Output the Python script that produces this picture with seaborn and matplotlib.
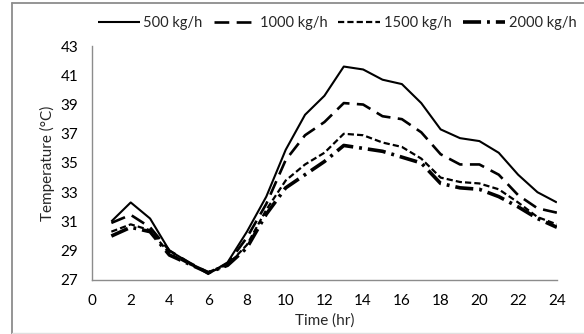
import matplotlib
matplotlib.use("Agg")
import matplotlib.pyplot as plt
from matplotlib.lines import Line2D
import seaborn as sns
import pandas as pd

hours = list(range(1, 25))
labels = ["500 kg/h", "1000 kg/h", "1500 kg/h", "2000 kg/h"]
t500 = [31.0, 32.3, 31.2, 29.0, 28.2, 27.4, 28.2, 30.3, 32.7, 35.9, 38.3, 39.6,
        41.6, 41.4, 40.7, 40.4, 39.1, 37.3, 36.7, 36.5, 35.7, 34.2, 33.0, 32.3]
t1000 = [30.9, 31.45, 30.6, 29.0, 28.2, 27.5, 28.1, 29.9, 32.2, 35.2, 36.9, 37.8,
         39.1, 39.0, 38.2, 38.0, 37.1, 35.6, 34.9, 34.9, 34.2, 32.8, 31.9, 31.6]
t1500 = [30.3, 30.8, 30.4, 28.8, 28.1, 27.5, 28.0, 29.4, 31.8, 33.8, 34.9, 35.7,
         37.0, 36.9, 36.4, 36.1, 35.3, 34.0, 33.7, 33.6, 33.2, 32.3, 31.3, 30.8]
t2000 = [30.0, 30.6, 30.3, 28.7, 28.1, 27.5, 28.0, 29.2, 31.5, 33.3, 34.2, 35.1,
         36.2, 36.0, 35.8, 35.4, 35.0, 33.6, 33.3, 33.2, 32.7, 32.0, 31.2, 30.6]
series = [t500, t1000, t1500, t2000]
x_ticks = list(range(0, 25, 2))
y_ticks = list(range(27, 44, 2))

sns.set_theme(style="white")
plt.rcParams["font.family"] = ["Lato", "DejaVu Sans"]

fig = plt.figure(figsize=(5.84, 3.34), dpi=100)
ax = fig.add_axes([0.1575, 0.162, 0.796, 0.700])

styles = [
    dict(linewidth=1.5, linestyle="-"),
    dict(linewidth=1.9, linestyle=(0, (5.6, 2.8))),
    dict(linewidth=1.6, linestyle=(0, (2.8, 1.4))),
    dict(linewidth=2.6, linestyle=(0, (5.0, 1.65, 0.8, 1.65))),
]
for lab, vals, st in zip(labels, series, styles):
    df = pd.DataFrame({"Time": hours, "Temp": vals})
    sns.lineplot(data=df, x="Time", y="Temp", ax=ax, color="black", label=lab,
                 solid_joinstyle="round", dash_joinstyle="round",
                 solid_capstyle="butt", dash_capstyle="butt", **st)

ax.set_xlim(0, 24)
ax.set_ylim(27, 43)
ax.set_xticks(x_ticks)
ax.set_yticks(y_ticks)
ax.tick_params(axis="both", labelsize=11, colors="black", length=0, pad=10)
ax.set_xlabel("Time (hr)", fontsize=11, labelpad=4)
ax.set_ylabel("Temperature (°C)", fontsize=11, labelpad=4)
for s in ["top", "right"]:
    ax.spines[s].set_visible(False)
for s in ["left", "bottom"]:
    ax.spines[s].set_color("#8c8c8c")
    ax.spines[s].set_linewidth(1.0)
ax.grid(False)

ax.legend(loc="center", bbox_to_anchor=(0.577, 0.932), bbox_transform=fig.transFigure,
          ncol=4, frameon=False, fontsize=10.5, handlelength=2.9,
          handletextpad=0.25, columnspacing=0.75)

W, H = 584.0, 334.0
fig.add_artist(Line2D([11.5 / W, 11.5 / W], [0, 1 - 2.5 / H], transform=fig.transFigure,
                      color="#8c8c8c", linewidth=1.3))
fig.add_artist(Line2D([11.5 / W, 1], [1 - 2.5 / H, 1 - 2.5 / H], transform=fig.transFigure,
                      color="#8c8c8c", linewidth=1.3))
fig.add_artist(Line2D([11.5 / W, 1], [1.0 / H, 1.0 / H], transform=fig.transFigure,
                      color="#e0e0e0", linewidth=1.0))

fig.savefig("out.png", dpi=100)
